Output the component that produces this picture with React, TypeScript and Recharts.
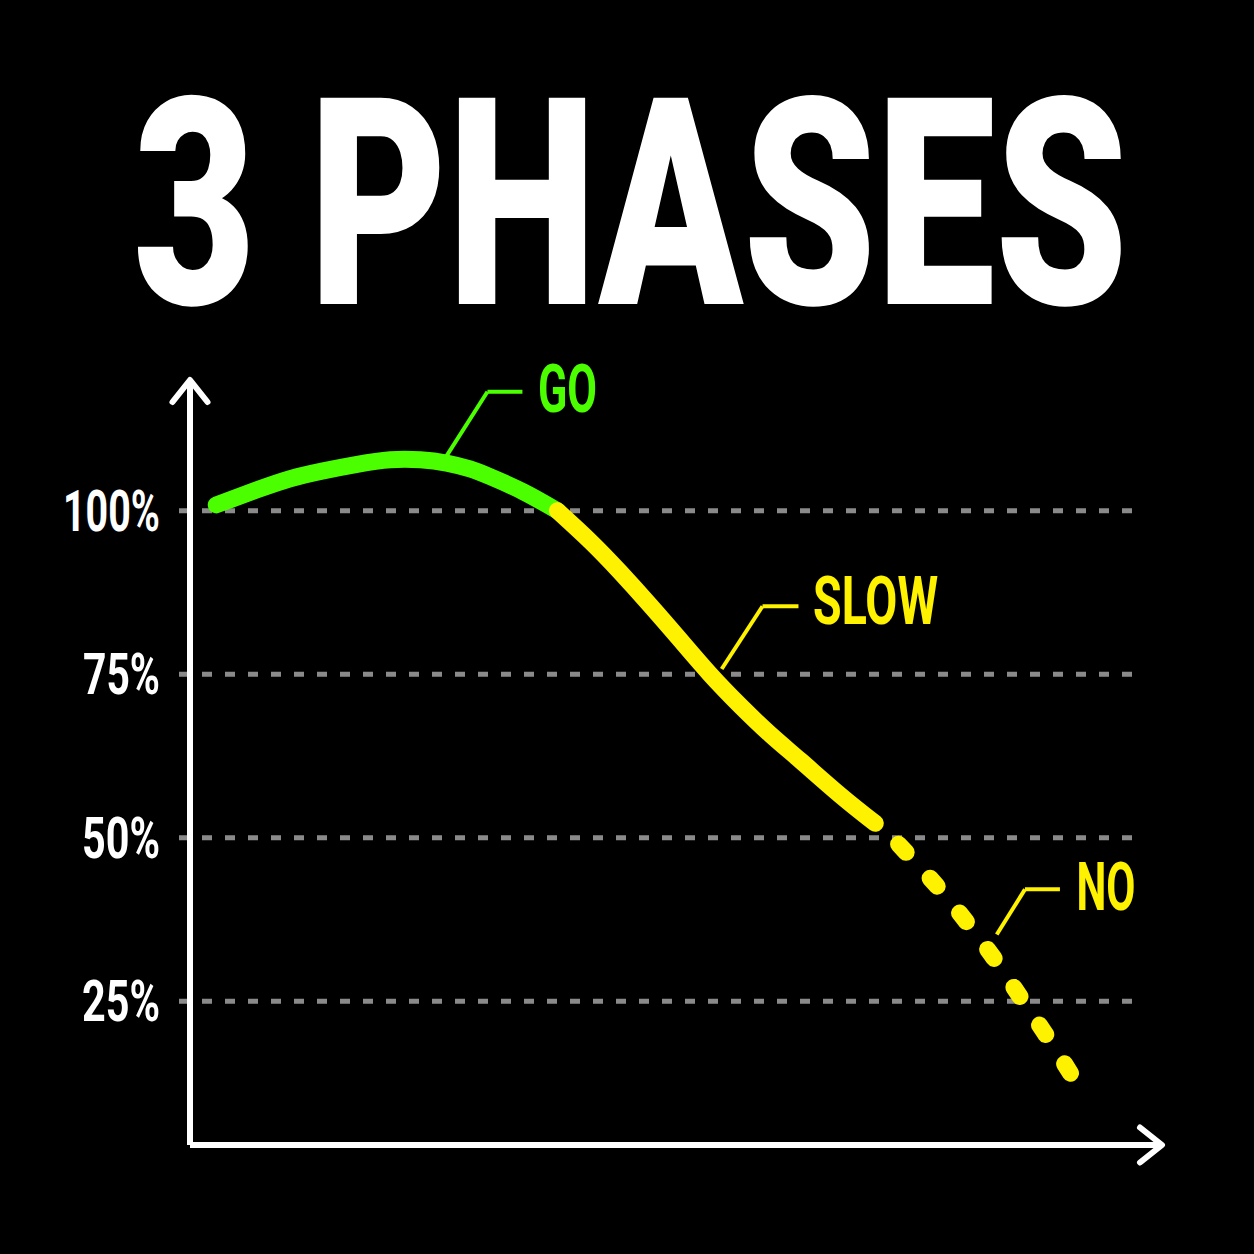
import { LineChart, Line, XAxis, YAxis, CartesianGrid, ReferenceLine, ReferenceDot } from 'recharts'

const FONT = "'Roboto', 'DejaVu Sans Condensed', sans-serif"
const GREEN = '#4cff00'
const YELLOW = '#fff200'

// phase curves, t = time (0..100), v = percent
const goPhase = [
  { t: 2.7, v: 100.9 },
  { t: 6.9, v: 103.2 },
  { t: 10.3, v: 104.9 },
  { t: 13.7, v: 106.1 },
  { t: 17.2, v: 107.1 },
  { t: 20.6, v: 107.8 },
  { t: 23.7, v: 107.8 },
  { t: 26.4, v: 107.3 },
  { t: 28.8, v: 106.4 },
  { t: 30.9, v: 105.2 },
  { t: 34.3, v: 102.9 },
  { t: 37.8, v: 100.0 },
]

const slowPhase = [
  { t: 37.8, v: 100.0 },
  { t: 41.2, v: 95.3 },
  { t: 44.2, v: 90.7 },
  { t: 47.3, v: 85.6 },
  { t: 50.4, v: 80.3 },
  { t: 53.5, v: 75.0 },
  { t: 56.6, v: 70.2 },
  { t: 59.7, v: 65.8 },
  { t: 62.8, v: 61.8 },
  { t: 66.9, v: 56.5 },
  { t: 70.5, v: 52.2 },
]

const noPhase = [
  { t: 72.9, v: 49.0 },
  { t: 76.8, v: 42.7 },
  { t: 79.8, v: 37.3 },
  { t: 82.7, v: 31.6 },
  { t: 85.4, v: 25.7 },
  { t: 88.0, v: 20.0 },
  { t: 91.0, v: 13.0 },
]

const yTicks = [25, 50, 75, 100]
const phaseNames = ['GO', 'SLOW', 'NO']
const phaseColors = [GREEN, YELLOW, YELLOW]

// callout leaders: point on curve -> elbow -> end of horizontal, then label start
const leaderStart = [{ t: 26.4, v: 108.4 }, { t: 54.7, v: 75.8 }, { t: 83.0, v: 35.2 }]
const leaderElbow = [{ t: 30.6, v: 118.2 }, { t: 58.9, v: 85.4 }, { t: 85.9, v: 42.1 }]
const leaderEnd = [{ t: 34.2, v: 118.2 }, { t: 62.6, v: 85.4 }, { t: 89.5, v: 42.1 }]
const labelAnchor = [{ t: 35.8, v: 115.1 }, { t: 64.1, v: 82.7 }, { t: 91.2, v: 38.9 }]
const labelWidths = [59, 125, 59]

const tickWidths: Record<number, number> = { 25: 78, 50: 78, 75: 77, 100: 97 }

// condensed look: squeeze a normal-width face horizontally around its anchor
function Squeezed(props: any) {
  const { x, y, width, sx, anchor = 'start', children, ...rest } = props
  return (
    <text
      transform={`translate(${x} ${y}) scale(${sx} 1)`}
      textAnchor={anchor}
      textLength={width / sx}
      lengthAdjust="spacingAndGlyphs"
      fontFamily={FONT}
      {...rest}
    >
      {children}
    </text>
  )
}

function PercentTick(props: any) {
  const { x, y, payload } = props
  return (
    <Squeezed x={x} y={y + 20} width={tickWidths[payload.value]} sx={0.69} anchor="end"
      fill="#fff" fontSize={58} fontWeight={700}>
      {`${payload.value}%`}
    </Squeezed>
  )
}

function PhaseLabel(text: string, color: string, width: number) {
  return (props: any) => (
    <Squeezed x={props.cx} y={props.cy} width={width} sx={0.68} fill={color} fontSize={66} fontWeight={700}>
      {text}
    </Squeezed>
  )
}

export default function App() {
  return (
    <div style={{ position: 'absolute', left: 0, top: 0, width: 1254, height: 1254, background: '#000', overflow: 'hidden' }}>
      <div style={{ position: 'absolute', left: 0, top: 0 }}>
        <LineChart width={1254} height={1254} margin={{ top: 380, right: 92, left: 60, bottom: 79 }}>
          <defs>
            <marker id="arrowEnd" markerUnits="userSpaceOnUse" markerWidth={60} markerHeight={60}
              viewBox="-30 -30 60 60" refX={0} refY={0} orient="auto" overflow="visible">
              <path d="M -22 -17.5 L 0 0 L -22 17.5" fill="none" stroke="#fff" strokeWidth={6}
                strokeLinecap="round" strokeLinejoin="round" />
            </marker>
            <marker id="arrowStart" markerUnits="userSpaceOnUse" markerWidth={60} markerHeight={60}
              viewBox="-30 -30 60 60" refX={0} refY={0} orient="auto-start-reverse" overflow="visible">
              <path d="M -22 -17.5 L 0 0 L -22 17.5" fill="none" stroke="#fff" strokeWidth={6}
                strokeLinecap="round" strokeLinejoin="round" />
            </marker>
          </defs>
          <CartesianGrid vertical={false} horizontalValues={yTicks} x={179} width={961}
            stroke="#8a8a8a" strokeWidth={5} strokeDasharray="10 13" />
          <XAxis
            type="number"
            dataKey="t"
            domain={[0, 100]}
            allowDataOverflow
            tick={false}
            tickLine={false}
            axisLine={{ stroke: '#fff', strokeWidth: 6, markerEnd: 'url(#arrowEnd)' }}
          />
          <YAxis
            type="number"
            dataKey="v"
            domain={[3, 120]}
            allowDataOverflow
            ticks={yTicks}
            width={130}
            tickSize={0}
            tickMargin={30}
            tickLine={false}
            tick={<PercentTick />}
            axisLine={{ stroke: '#fff', strokeWidth: 6, markerStart: 'url(#arrowStart)' }}
          />
          <Line data={goPhase} dataKey="v" type="natural" stroke={GREEN} strokeWidth={17}
            strokeLinecap="round" dot={false} activeDot={false} isAnimationActive={false} />
          <Line data={slowPhase} dataKey="v" type="natural" stroke={YELLOW} strokeWidth={17}
            strokeLinecap="round" dot={false} activeDot={false} isAnimationActive={false} />
          <Line data={noPhase} dataKey="v" type="natural" stroke={YELLOW} strokeWidth={17}
            strokeLinecap="round" strokeDasharray="11 35" dot={false} activeDot={false} isAnimationActive={false} />
          {phaseNames.map((name, i) => (
            <ReferenceLine key={`a${name}`} ifOverflow="visible" stroke={phaseColors[i]} strokeWidth={4}
              segment={[{ x: leaderStart[i].t, y: leaderStart[i].v }, { x: leaderElbow[i].t, y: leaderElbow[i].v }]} />
          ))}
          {phaseNames.map((name, i) => (
            <ReferenceLine key={`b${name}`} ifOverflow="visible" stroke={phaseColors[i]} strokeWidth={4}
              segment={[{ x: leaderElbow[i].t, y: leaderElbow[i].v }, { x: leaderEnd[i].t, y: leaderEnd[i].v }]} />
          ))}
          {phaseNames.map((name, i) => (
            <ReferenceDot key={`l${name}`} x={labelAnchor[i].t} y={labelAnchor[i].v} r={0} ifOverflow="visible"
              shape={PhaseLabel(name, phaseColors[i], labelWidths[i])} />
          ))}
        </LineChart>
      </div>
      <svg width={1254} height={420} style={{ position: 'absolute', left: 0, top: 0, pointerEvents: 'none' }}>
        <Squeezed x={133} y={304} width={995} sx={0.72} fill="#fff" fontSize={290} fontWeight={900}>
          3 PHASES
        </Squeezed>
      </svg>
    </div>
  )
}
